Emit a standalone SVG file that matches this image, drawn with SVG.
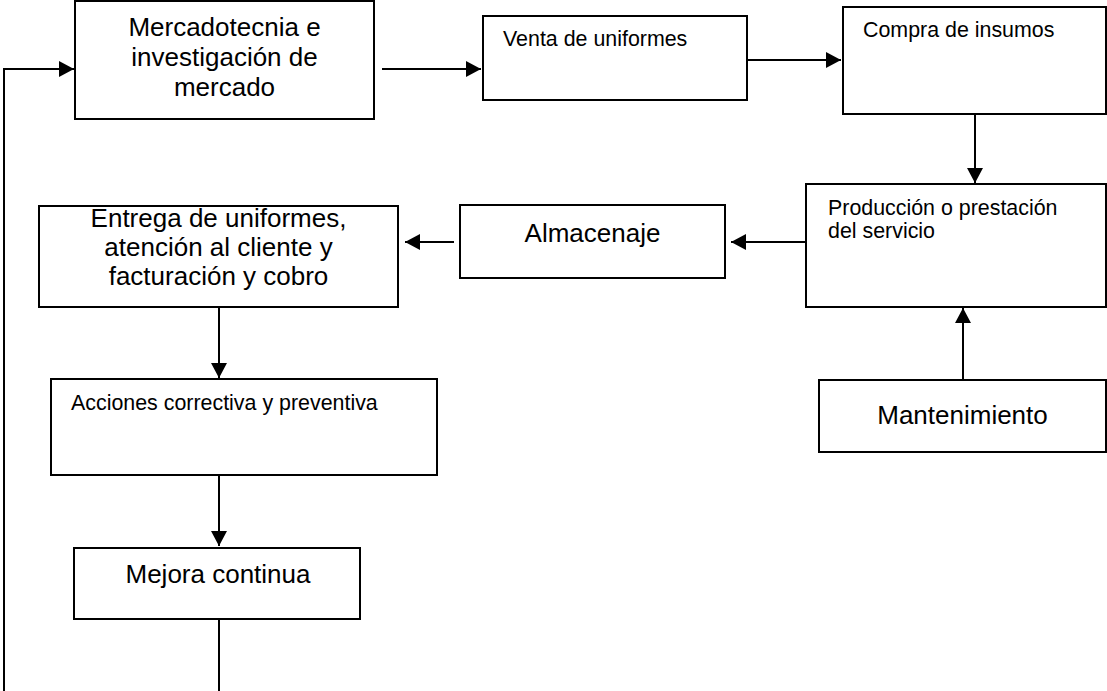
<svg xmlns="http://www.w3.org/2000/svg" width="1107" height="691" viewBox="0 0 1107 691">
  <style>
    .box { fill: #ffffff; stroke: #000000; stroke-width: 2; }
    .wire { fill: none; stroke: #000000; stroke-width: 2; }
    .big { font-family: "Liberation Sans", Arial, sans-serif; font-size: 26px; fill: #000000; text-anchor: middle; }
    .small { font-family: "Liberation Sans", Arial, sans-serif; font-size: 21.4px; fill: #000000; }
  </style>
  <defs>
    <marker id="arrow" markerWidth="15" markerHeight="16" refX="15" refY="8" orient="auto" markerUnits="userSpaceOnUse">
      <path d="M0,0 L15,8 L0,16 Z" fill="#000000"/>
    </marker>
  </defs>

  <rect width="1107" height="691" fill="#ffffff"/>

  <!-- connectors -->
  <g id="connectors">
    <polyline class="wire" points="4,691 4,69 74,69" marker-end="url(#arrow)"/>
    <line class="wire" x1="382" y1="69" x2="481" y2="69" marker-end="url(#arrow)"/>
    <line class="wire" x1="747" y1="60" x2="841" y2="60" marker-end="url(#arrow)"/>
    <line class="wire" x1="975" y1="114" x2="975" y2="183" marker-end="url(#arrow)"/>
    <line class="wire" x1="806" y1="242" x2="731" y2="242" marker-end="url(#arrow)"/>
    <line class="wire" x1="454" y1="242" x2="405" y2="242" marker-end="url(#arrow)"/>
    <line class="wire" x1="219" y1="307" x2="219" y2="378" marker-end="url(#arrow)"/>
    <line class="wire" x1="219" y1="475" x2="219" y2="546" marker-end="url(#arrow)"/>
    <line class="wire" x1="219" y1="619" x2="219" y2="691"/>
    <line class="wire" x1="963" y1="380" x2="963" y2="308" marker-end="url(#arrow)"/>
  </g>

  <!-- nodes -->
  <g id="mercadotecnia">
    <rect class="box" x="75" y="1" width="299" height="118"/>
    <text class="big" x="224.5" y="36">Mercadotecnia e</text>
    <text class="big" x="224.5" y="66">investigación de</text>
    <text class="big" x="224.5" y="96">mercado</text>
  </g>

  <g id="venta">
    <rect class="box" x="483" y="16" width="264" height="84"/>
    <text class="small" x="503" y="46">Venta de uniformes</text>
  </g>

  <g id="compra">
    <rect class="box" x="843" y="7" width="263" height="107"/>
    <text class="small" x="863" y="37">Compra de insumos</text>
  </g>

  <g id="produccion">
    <rect class="box" x="806" y="184" width="300" height="123"/>
    <text class="small" x="828" y="215">Producción o prestación</text>
    <text class="small" x="828" y="238">del servicio</text>
  </g>

  <g id="almacenaje">
    <rect class="box" x="460" y="205" width="265" height="73"/>
    <text class="big" x="592.5" y="242">Almacenaje</text>
  </g>

  <g id="entrega">
    <rect class="box" x="39" y="206" width="359" height="101"/>
    <text class="big" x="218.5" y="227" font-size="25.5">Entrega de uniformes,</text>
    <text class="big" x="218.5" y="256" font-size="25.5">atención al cliente y</text>
    <text class="big" x="218.5" y="285" font-size="25.5">facturación y cobro</text>
  </g>

  <g id="acciones">
    <rect class="box" x="51" y="379" width="386" height="96"/>
    <text class="small" x="71" y="410">Acciones correctiva y preventiva</text>
  </g>

  <g id="mejora">
    <rect class="box" x="74" y="548" width="286" height="71"/>
    <text class="big" x="218" y="583">Mejora continua</text>
  </g>

  <g id="mantenimiento">
    <rect class="box" x="819" y="380" width="287" height="72"/>
    <text class="big" x="962.5" y="424">Mantenimiento</text>
  </g>
</svg>
